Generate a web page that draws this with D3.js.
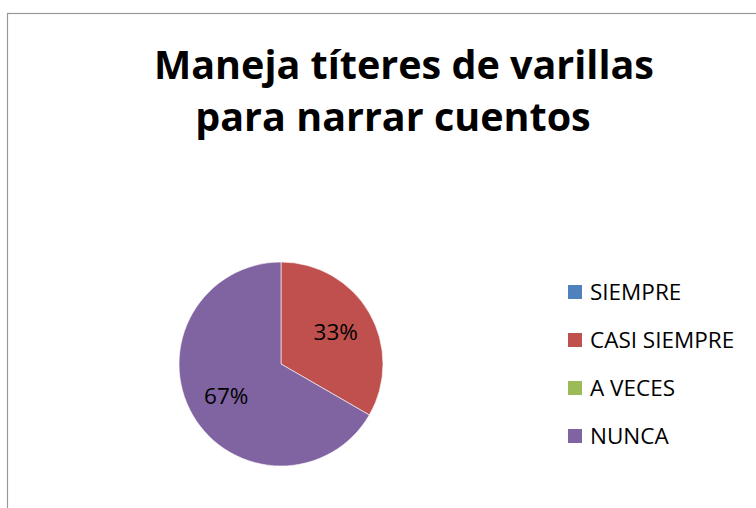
<!DOCTYPE html>
<html>
<head>
<meta charset="utf-8">
<script src="https://cdn.jsdelivr.net/npm/d3@7"></script>
<style>
  body { margin: 0; background: #fff; }
  svg { display: block; font-family: "Open Sans", sans-serif; }
</style>
</head>
<body>
<svg id="chart" width="756" height="508"></svg>
<script>
// data
var categories = ["SIEMPRE", "CASI SIEMPRE", "A VECES", "NUNCA"];
var counts = [0, 1, 0, 2];
var colors = ["#4F81BD", "#C0504D", "#9BBB59", "#8064A2"];
var titleLines = ["Maneja títeres de varillas", "para narrar cuentos"];

var svg = d3.select("#chart");

// outer chart frame (runs off the right and bottom of the picture)
svg.append("rect")
    .attr("x", 7.5).attr("y", 13.5)
    .attr("width", 800).attr("height", 600)
    .attr("fill", "#fff")
    .attr("stroke", "#999")
    .attr("stroke-width", 1.2);

// title (second line sits a bit left in the original)
var titleX = [404, 393];
svg.append("g").selectAll("text")
    .data(titleLines).enter().append("text")
    .attr("x", function(d, i) { return titleX[i]; })
    .attr("y", function(d, i) { return 79 + i * 52; })
    .attr("text-anchor", "middle")
    .attr("font-size", 39.5)
    .attr("font-weight", "bold")
    .attr("fill", "#000")
    .text(function(d) { return d; });

// pie
var cx = 281, cy = 364, radius = 102;
var total = d3.sum(counts);
var rows = categories.map(function(c, i) { return {name: c, value: counts[i], color: colors[i]}; });

var pie = d3.pie().sort(null).value(function(d) { return d.value; });
var arc = d3.arc().innerRadius(0).outerRadius(radius);
var labelArc = d3.arc().innerRadius(radius * 0.62).outerRadius(radius * 0.62);

var g = svg.append("g").attr("transform", "translate(" + cx + "," + cy + ")");
var slices = pie(rows).filter(function(d) { return d.value > 0; });

g.selectAll("path")
    .data(slices).enter().append("path")
    .attr("d", arc)
    .attr("fill", function(d) { return d.data.color; })
    .attr("stroke", "#fff")
    .attr("stroke-width", 0.6);

g.selectAll("text")
    .data(slices).enter().append("text")
    .attr("transform", function(d) { return "translate(" + labelArc.centroid(d) + ")"; })
    .attr("text-anchor", "middle")
    .attr("dy", "0.36em")
    .attr("font-size", 22.5)
    .attr("fill", "#000")
    .text(function(d) { return d3.format(".0%")(d.value / total); });

// legend
var legendY = d3.scaleBand().domain(categories).range([268, 460]);
var legend = svg.append("g").selectAll("g")
    .data(rows).enter().append("g")
    .attr("transform", function(d) { return "translate(568," + (legendY(d.name) + legendY.bandwidth() / 2) + ")"; });

legend.append("rect")
    .attr("x", 0).attr("y", -7)
    .attr("width", 14).attr("height", 14)
    .attr("fill", function(d) { return d.color; });

legend.append("text")
    .attr("x", 22)
    .attr("dy", "0.36em")
    .attr("font-size", 22.5)
    .attr("fill", "#000")
    .text(function(d) { return d.name; });
</script>
</body>
</html>
